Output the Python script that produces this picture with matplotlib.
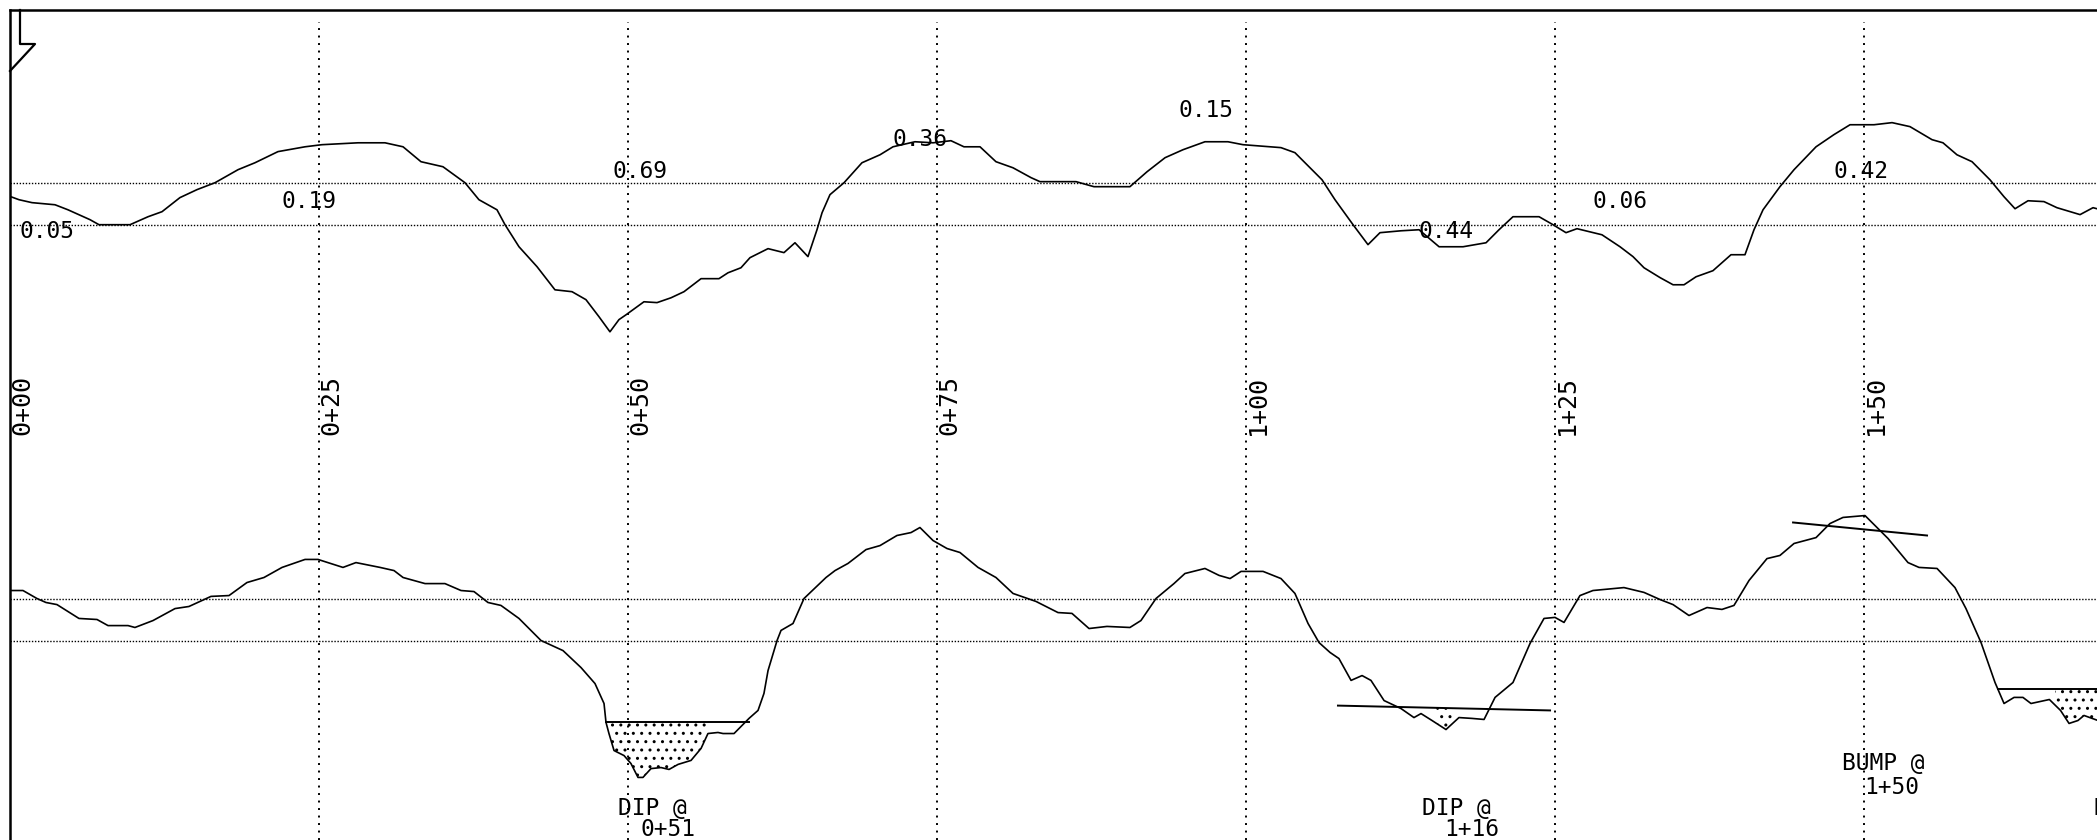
import numpy as np
import matplotlib
matplotlib.use("Agg")
import matplotlib.pyplot as plt
from matplotlib.lines import Line2D

# profilograph trace (top) and filtered trace (bottom)
# station in feet, deviation in inches (+ = up)
raw_ft = [0.08, 0.73, 1.78, 3.64, 4.69, 6.47, 7.20, 9.71, 11.17, 12.30,
          13.75, 15.13, 16.59, 18.45, 19.82, 21.68, 23.87, 25.24, 28.16, 30.34,
          31.80, 33.25, 35.03, 36.81, 37.94, 39.40, 40.05, 41.18, 42.64, 44.09,
          45.47, 46.60, 47.65, 48.54, 49.27, 49.84, 51.29, 52.35, 53.48, 54.53,
          55.91, 57.36, 58.09, 59.14, 59.87, 61.33, 62.62, 63.51, 64.56, 65.29,
          65.70, 66.34, 67.48, 68.93, 70.39, 71.44, 73.22, 74.68, 76.13, 77.18,
          78.48, 79.77, 81.15, 82.61, 83.33, 86.25, 87.70, 90.61, 91.99, 93.45,
          94.90, 96.68, 98.54, 99.76, 102.83, 103.96, 106.15, 107.20, 108.66, 109.87,
          110.84, 112.54, 114.00, 115.62, 117.56, 119.42, 120.47, 121.60, 123.71, 124.84,
          125.89, 126.78, 128.80, 130.26, 131.31, 132.20, 133.50, 134.55, 135.44, 136.41,
          137.78, 139.24, 140.37, 141.10, 141.83, 143.20, 144.34, 146.12, 147.57, 148.87,
          150.81, 152.27, 153.72, 155.50, 156.39, 157.52, 158.74, 160.19, 161.33, 162.22,
          163.27, 164.56, 165.61, 167.48, 168.53, 169.17]
raw_in = [0.033, 0.019, 0.005, -0.005, -0.029, -0.076, -0.100, -0.100, -0.062, -0.038,
          0.029, 0.067, 0.100, 0.162, 0.195, 0.248, 0.271, 0.281, 0.290, 0.290,
          0.271, 0.200, 0.176, 0.100, 0.019, -0.029, -0.100, -0.205, -0.300, -0.410,
          -0.419, -0.457, -0.538, -0.610, -0.552, -0.529, -0.467, -0.471, -0.448, -0.419,
          -0.357, -0.357, -0.329, -0.305, -0.257, -0.214, -0.233, -0.186, -0.252, -0.124,
          -0.043, 0.043, 0.100, 0.195, 0.233, 0.271, 0.295, 0.290, 0.300, 0.271,
          0.271, 0.200, 0.171, 0.124, 0.105, 0.105, 0.081, 0.081, 0.152, 0.219,
          0.257, 0.295, 0.295, 0.281, 0.267, 0.243, 0.114, 0.019, -0.100, -0.195,
          -0.138, -0.129, -0.124, -0.205, -0.205, -0.186, -0.124, -0.062, -0.062, -0.100,
          -0.138, -0.119, -0.148, -0.205, -0.252, -0.305, -0.352, -0.386, -0.386, -0.348,
          -0.319, -0.243, -0.243, -0.124, -0.029, 0.081, 0.162, 0.271, 0.329, 0.376,
          0.376, 0.386, 0.367, 0.305, 0.290, 0.233, 0.200, 0.114, 0.033, -0.024,
          0.014, 0.010, -0.019, -0.052, -0.019, -0.029]

filt_ft = [0.08, 1.05, 2.18, 2.91, 3.80, 5.58, 7.04, 7.93, 9.55, 10.11,
           11.57, 13.35, 14.48, 16.26, 17.72, 19.17, 20.55, 22.01, 23.87, 24.92,
           26.94, 27.99, 29.94, 31.07, 31.80, 33.58, 35.19, 36.49, 37.54, 38.67,
           39.72, 41.18, 42.96, 44.74, 46.20, 47.33, 48.06,
           48.22, 48.46, 48.87, 49.68, 50.24, 50.81, 51.21, 51.86, 52.67, 53.32,
           54.05, 55.10, 55.91, 56.47, 57.28, 57.69, 58.58, 59.39, 59.79, 60.52,
           61.00,
           61.33, 62.06, 62.38, 63.35, 64.24, 66.02, 66.75, 67.80, 69.26, 70.39,
           71.76, 72.90, 73.62, 74.68, 75.81, 76.86, 78.32, 79.77, 81.15, 83.01,
           84.79, 85.92, 87.30, 88.75, 90.61, 91.50, 92.72, 94.17, 95.06, 96.68,
           97.82, 98.71, 99.60, 101.38, 102.83, 103.96, 105.02, 105.91, 106.80, 107.52,
           108.50, 109.39, 110.11, 111.17, 112.54, 113.59, 114.16, 115.05, 116.18, 117.23,
           118.28, 119.26, 120.15, 121.60, 122.98, 124.11, 125.00, 125.73, 127.02, 128.07,
           130.58, 132.20, 133.50, 134.55, 135.84, 137.30, 138.51, 139.48, 140.70, 142.15,
           143.20, 144.34, 146.12, 147.25, 148.30, 150.08, 151.94, 153.56, 154.45, 155.91,
           157.36, 158.25, 159.47, 160.60, 161.33, 162.14, 162.86, 163.51, 165.00, 165.90,
           166.59, 167.31, 167.80, 168.93]
filt_in = [0.138, 0.138, 0.100, 0.081, 0.071, 0.005, 0.000, -0.029, -0.029, -0.038,
           -0.005, 0.052, 0.062, 0.110, 0.114, 0.176, 0.200, 0.248, 0.286, 0.286,
           0.248, 0.271, 0.248, 0.233, 0.200, 0.171, 0.171, 0.138, 0.133, 0.081,
           0.067, 0.005, -0.100, -0.148, -0.229, -0.305, -0.400,
           -0.490, -0.543, -0.624, -0.648, -0.686, -0.752, -0.752, -0.710, -0.705, -0.714,
           -0.690, -0.671, -0.614, -0.543, -0.538, -0.543, -0.543, -0.495, -0.471, -0.433,
           -0.352,
           -0.243, -0.100, -0.052, -0.019, 0.100, 0.200, 0.233, 0.267, 0.333, 0.352,
           0.400, 0.414, 0.438, 0.376, 0.338, 0.319, 0.248, 0.200, 0.124, 0.086,
           0.033, 0.029, -0.043, -0.033, -0.038, -0.005, 0.100, 0.171, 0.219, 0.243,
           0.210, 0.195, 0.229, 0.229, 0.195, 0.124, -0.019, -0.110, -0.157, -0.186,
           -0.290, -0.267, -0.290, -0.386, -0.424, -0.467, -0.448, -0.481, -0.524, -0.467,
           -0.471, -0.476, -0.371, -0.300, -0.114, 0.005, 0.010, -0.014, 0.114, 0.138,
           0.152, 0.129, 0.095, 0.071, 0.019, 0.057, 0.048, 0.067, 0.186, 0.290,
           0.305, 0.362, 0.390, 0.457, 0.486, 0.495, 0.386, 0.271, 0.248, 0.243,
           0.152, 0.052, -0.110, -0.300, -0.400, -0.371, -0.371, -0.400, -0.381, -0.433,
           -0.495, -0.481, -0.457, -0.481]

stations = [0, 25, 50, 75, 100, 125, 150]
station_labels = ['0+00', '0+25', '0+50', '0+75', '1+00', '1+25', '1+50']

# counts printed along the raw trace
count_ft = [0.73, 21.93, 48.71, 71.36, 94.50, 113.92, 128.07, 147.57]
count_text = ['0.05', '0.19', '0.69', '0.36', '0.15', '0.44', '0.06', '0.42']

# bump / dip templates on the filtered trace
tmpl_kind = ['DIP', 'DIP', 'BUMP', 'DIP']
tmpl_ft0 = [48.22, 107.44, 144.26, 160.84]
tmpl_ft1 = [59.79, 124.60, 155.10, 168.93]
tmpl_in0 = [-0.486, -0.410, 0.462, -0.333]
tmpl_in1 = [-0.486, -0.433, 0.400, -0.333]
event_ft = [51, 116, 150, 170.4]
event_text = ['0+51', '1+16', '1+50', '']

W, H = 2097, 840
PX_FT = 12.36      # pixels per foot
PX_IN = 210.0      # pixels per inch
TOP_BASE = 3.03    # centre line of raw trace (inches from bottom)
LOW_BASE = 1.05    # centre line of filtered trace
BAND = 0.1
MONO = 'DejaVu Sans Mono'

plt.rcParams['lines.scale_dashes'] = False
plt.rcParams['hatch.linewidth'] = 1.0

fig = plt.figure(figsize=(W / 100, H / 100), dpi=100)
ax = fig.add_axes([10 / W, 0, (W - 10) / W, (H - 10) / H])
ax.set_xlim(0, (W - 10) / PX_FT)
ax.set_ylim(0, (H - 10) / PX_IN)
ax.set_xticks([])
ax.set_yticks([])
for side in ['right', 'bottom']:
    ax.spines[side].set_visible(False)
for side in ['left', 'top']:
    ax.spines[side].set_linewidth(1.8)

# station grid
ax.vlines(stations, 0, (H - 22) / PX_IN, colors='k', lw=1.4,
          linestyles=[(0, (1.4, 4.0))])
for st, lab in zip(stations, station_labels):
    ax.text(st + 12 / PX_FT, (H - 405) / PX_IN, lab, rotation=90,
            ha='center', va='center', fontsize=18, family=MONO)

# blanking bands
for base in (TOP_BASE, LOW_BASE):
    for off in (-BAND, BAND):
        ax.axhline(base + off, color='k', lw=1.0, ls=(0, (1.0, 1.2)))

# traces
ax.plot(raw_ft, TOP_BASE + np.array(raw_in), color='k', lw=1.2)
ax.plot(filt_ft, LOW_BASE + np.array(filt_in), color='k', lw=1.2)

# count labels, stepping up in five rows
levels = [-0.133, 0.010, 0.152, 0.305, 0.443]
for i, (ft, txt) in enumerate(zip(count_ft, count_text)):
    ax.text(ft, TOP_BASE + levels[i % 5], txt, ha='left', va='center',
            fontsize=16.5, family=MONO)

# templates, dotted area under dips and labels
label_rows = {'DIP': (0.152, 0.048), 'BUMP': (0.362, 0.248)}
for kind, f0, f1, i0, i1, eft, etxt in zip(tmpl_kind, tmpl_ft0, tmpl_ft1,
                                            tmpl_in0, tmpl_in1, event_ft, event_text):
    ax.plot([f0, f1], [LOW_BASE + i0, LOW_BASE + i1], color='k', lw=1.4)
    if kind == 'DIP':
        xs = np.linspace(f0, f1, 400)
        tr = np.interp(xs, filt_ft, filt_in)
        ln = np.interp(xs, [f0, f1], [i0, i1])
        ax.fill_between(xs, LOW_BASE + ln, LOW_BASE + tr, where=(ln - tr) > 0.075,
                        interpolate=True, facecolor='none', edgecolor='k',
                        hatch='..', linewidth=0)
    r1, r2 = label_rows[kind]
    ax.text(eft - 22 / PX_FT, r1, kind + ' @', ha='left', va='center',
            fontsize=16.5, family=MONO)
    if etxt:
        ax.text(eft, r2, etxt, ha='left', va='center', fontsize=16.5, family=MONO)

# start flag in the top-left corner
flag_x = np.array([20, 20, 35, 10])
flag_y = np.array([10, 44, 44, 71])
fig.add_artist(Line2D(flag_x / W, 1 - flag_y / H, transform=fig.transFigure,
                      color='k', lw=1.6))

fig.savefig('out.png', dpi=100)
